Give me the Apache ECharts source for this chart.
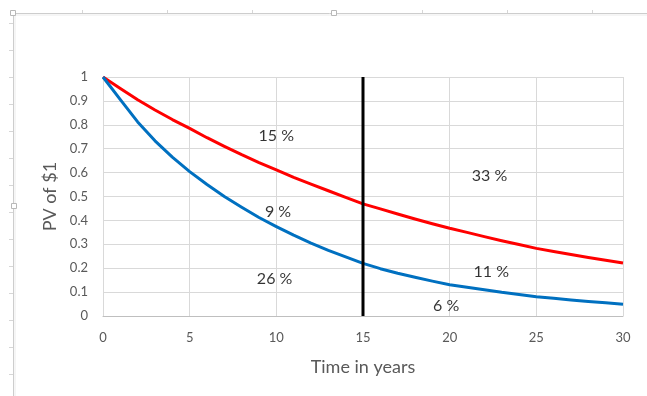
<!DOCTYPE html>
<html>
<head>
<meta charset="utf-8">
<script src="https://cdn.jsdelivr.net/npm/echarts@6/dist/echarts.min.js"></script>
<style>
  html, body { margin: 0; padding: 0; background: #ffffff; }
  #chart { width: 647px; height: 396px; }
</style>
</head>
<body>
<div id="chart"></div>
<script>
// Years on the horizontal axis
const years = [0, 1, 2, 3, 4, 5, 6, 7, 8, 9, 10, 11, 12, 13, 14, 15,
               16, 17, 18, 19, 20, 21, 22, 23, 24, 25, 26, 27, 28, 29, 30];

// Present value of $1 received in year t, lower discount rate (red)
const pvLowRate = [1.000, 0.952, 0.905, 0.862, 0.822, 0.785, 0.746, 0.710, 0.675, 0.642,
                   0.611, 0.580, 0.552, 0.524, 0.496, 0.469, 0.448, 0.427, 0.406, 0.386,
                   0.367, 0.350, 0.332, 0.315, 0.299, 0.283, 0.270, 0.257, 0.245, 0.233,
                   0.222];

// Present value of $1 received in year t, higher discount rate (blue)
const pvHighRate = [1.000, 0.905, 0.812, 0.733, 0.665, 0.604, 0.550, 0.500, 0.455, 0.412,
                    0.374, 0.338, 0.305, 0.275, 0.247, 0.220, 0.198, 0.179, 0.162, 0.146,
                    0.131, 0.120, 0.110, 0.099, 0.090, 0.081, 0.074, 0.067, 0.061, 0.055,
                    0.049];

// Cut-off year marked by the vertical line
const cutoffYear = 15;

// Share-of-value annotations: [year, pv, text]
const shareNotes = [
  [10.0, 0.755, '15 %'],
  [10.1, 0.435, '9 %'],
  [9.9, 0.155, '26 %'],
  [22.3, 0.586, '33 %'],
  [22.4, 0.184, '11 %'],
  [19.8, 0.044, '6 %']
];

// Axis ticks
const xTickStep = 5;
const yTickStep = 0.1;

const font = 'Lato, "Open Sans", "Noto Sans", sans-serif';
const chart = echarts.init(document.getElementById('chart'), null, { renderer: 'canvas' });

// Surrounding frame of the chart object (border, ruler ticks, handles)
const frame = [];
frame.push({ type: 'line', shape: { x1: 12, y1: 13.5, x2: 647, y2: 13.5 }, style: { stroke: '#cdcdcd', lineWidth: 1 } });
frame.push({ type: 'line', shape: { x1: 12, y1: 15, x2: 647, y2: 15 }, style: { stroke: '#ececec', lineWidth: 1 } });
frame.push({ type: 'line', shape: { x1: 13.5, y1: 13, x2: 13.5, y2: 396 }, style: { stroke: '#cdcdcd', lineWidth: 1 } });
frame.push({ type: 'line', shape: { x1: 15, y1: 15, x2: 15, y2: 396 }, style: { stroke: '#ececec', lineWidth: 1 } });
[82.5, 167.5, 252.5, 422.5, 507.5, 592.5].forEach(function (x) {
  frame.push({ type: 'line', shape: { x1: x, y1: 10, x2: x, y2: 13 }, style: { stroke: '#d6d6d6', lineWidth: 1 } });
});
for (let y = 23.5; y < 396; y += 27) {
  frame.push({ type: 'line', shape: { x1: 9, y1: y, x2: 13, y2: y }, style: { stroke: '#d6d6d6', lineWidth: 1 } });
}
[[13, 13], [334, 13], [14, 206]].forEach(function (p) {
  frame.push({ type: 'rect', shape: { x: p[0] - 2.5, y: p[1] - 2.5, width: 5, height: 5 },
               style: { fill: '#ffffff', stroke: '#b8b8b8', lineWidth: 1 }, z: 10 });
});

chart.setOption({
  animation: false,
  backgroundColor: '#ffffff',
  graphic: frame,
  grid: { left: 103, right: 24, top: 77, bottom: 80, containLabel: false },
  xAxis: {
    type: 'value',
    min: 0,
    max: 30,
    interval: xTickStep,
    name: 'Time in years',
    nameLocation: 'middle',
    nameGap: 42,
    nameTextStyle: { fontFamily: font, fontSize: 18, color: '#595959' },
    axisLine: { show: true, lineStyle: { color: '#bfbfbf', width: 1 } },
    axisTick: { show: false },
    axisLabel: { fontFamily: font, fontSize: 13, color: '#595959', margin: 15 },
    splitLine: { show: true, lineStyle: { color: '#d9d9d9', width: 1 } }
  },
  yAxis: {
    type: 'value',
    min: 0,
    max: 1,
    interval: yTickStep,
    name: 'PV of $1',
    nameLocation: 'middle',
    nameGap: 42,
    nameRotate: 90,
    nameTextStyle: { fontFamily: font, fontSize: 18, color: '#595959' },
    axisLine: { show: false },
    axisTick: { show: false },
    axisLabel: {
      fontFamily: font, fontSize: 13, color: '#595959', margin: 15,
      formatter: function (v) { return String(+v.toFixed(1)); }
    },
    splitLine: { show: true, lineStyle: { color: '#d9d9d9', width: 1 } }
  },
  series: [
    {
      name: 'Lower rate',
      type: 'line',
      data: years.map(function (t, i) { return [t, pvLowRate[i]]; }),
      smooth: false,
      showSymbol: false,
      lineStyle: { color: '#ff0000', width: 3, join: 'round' },
      z: 3
    },
    {
      name: 'Higher rate',
      type: 'line',
      data: years.map(function (t, i) { return [t, pvHighRate[i]]; }),
      smooth: false,
      showSymbol: false,
      lineStyle: { color: '#0070c0', width: 3, join: 'round' },
      z: 3
    },
    {
      name: 'Cut-off',
      type: 'line',
      data: [[cutoffYear, 0], [cutoffYear, 1]],
      showSymbol: false,
      lineStyle: { color: '#000000', width: 3 },
      z: 4
    },
    {
      name: 'Shares',
      type: 'scatter',
      symbolSize: 0,
      data: shareNotes.map(function (n) { return { value: [n[0], n[1]], name: n[2] }; }),
      label: {
        show: true,
        position: 'inside',
        formatter: function (p) { return p.name; },
        fontFamily: font,
        fontSize: 16,
        color: '#000000'
      },
      z: 5
    }
  ]
});
</script>
</body>
</html>
